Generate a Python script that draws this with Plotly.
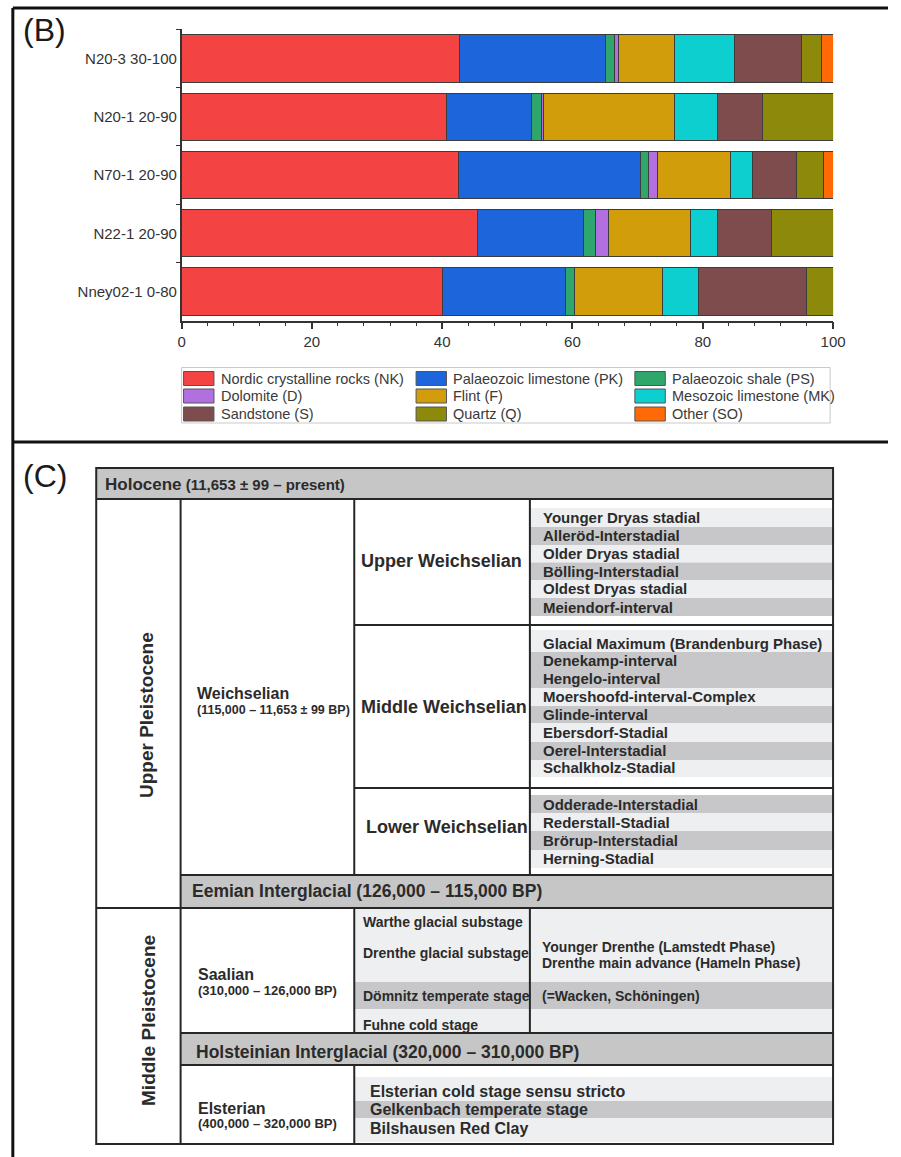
import plotly.graph_objects as go

# ---------------- data (panel B) ----------------
samples = ["N20-3 30-100", "N20-1 20-90", "N70-1 20-90", "N22-1 20-90", "Nney02-1 0-80"]
materials = ["Nordic crystalline rocks (NK)", "Palaeozoic limestone (PK)", "Palaeozoic shale (PS)",
             "Dolomite (D)", "Flint (F)", "Mesozoic limestone (MK)",
             "Sandstone (S)", "Quartz (Q)", "Other (SO)"]
NK = [42.7, 40.7, 42.5, 45.4, 40.0]
PK = [22.4, 13.0, 28.0, 16.3, 19.0]
PS = [1.4, 1.5, 1.2, 1.9, 1.3]
D = [0.5, 0.4, 1.4, 1.9, 0.0]
F = [8.6, 20.0, 11.2, 12.6, 13.5]
MK = [9.3, 6.7, 3.3, 4.1, 5.5]
S = [10.2, 6.9, 6.8, 8.4, 16.7]
Q = [3.2, 10.8, 4.2, 9.4, 4.0]
SO = [1.7, 0.0, 1.4, 0.0, 0.0]
values = [NK, PK, PS, D, F, MK, S, Q, SO]
colors = ["#F44343", "#1D65DA", "#2FA66B", "#B26FDF", "#D29D0B",
          "#0ECFCF", "#7E4C4D", "#8C890B", "#FF6A06"]
x_ticks = [0, 20, 40, 60, 80, 100]

# ---------------- data (panel C) ----------------
holocene_label = "Holocene"
holocene_sub = "(11,653 ± 99 – present)"
upper_pleist = "Upper Pleistocene"
middle_pleist = "Middle Pleistocene"
weich_label = "Weichselian"
weich_sub = "(115,000 – 11,653 ± 99 BP)"
weich_stages = ["Upper Weichselian", "Middle Weichselian", "Lower Weichselian"]
upper_items = ["Younger Dryas stadial", "Alleröd-Interstadial", "Older Dryas stadial",
               "Bölling-Interstadial", "Oldest Dryas stadial", "Meiendorf-interval"]
middle_items = ["Glacial Maximum (Brandenburg Phase)", "Denekamp-interval", "Hengelo-interval",
                "Moershoofd-interval-Complex", "Glinde-interval", "Ebersdorf-Stadial",
                "Oerel-Interstadial", "Schalkholz-Stadial"]
lower_items = ["Odderade-Interstadial", "Rederstall-Stadial", "Brörup-Interstadial", "Herning-Stadial"]
eemian_label = "Eemian Interglacial (126,000 – 115,000 BP)"
saal_label = "Saalian"
saal_sub = "(310,000 – 126,000 BP)"
saal_substages = ["Warthe glacial substage", "Drenthe glacial substage",
                  "Dömnitz temperate stage", "Fuhne cold stage"]
saal_right = ["Younger Drenthe (Lamstedt Phase)", "Drenthe main advance (Hameln Phase)",
              "(=Wacken, Schöningen)"]
holst_label = "Holsteinian Interglacial (320,000 – 310,000 BP)"
elst_label = "Elsterian"
elst_sub = "(400,000 – 320,000 BP)"
elst_items = ["Elsterian cold stage sensu stricto", "Gelkenbach temperate stage", "Bilshausen Red Clay"]

W, H = 901, 1157
FONT = "Liberation Sans, Arial, sans-serif"
TXT = "#2b2b2b"
LIGHT = "#eeeff1"
GRAY = "#c7c7c9"
HEAD = "#c6c6c6"
LINE = "#262626"


def X(px):
    return px / W


def Y(py):
    return 1 - py / H


fig = go.Figure()
for name, vals, col in zip(materials, values, colors):
    fig.add_trace(go.Bar(
        y=samples, x=vals, name=name, orientation="h",
        marker=dict(color=col, line=dict(color="#3c3c3c", width=1)),
        showlegend=False,
    ))

shapes = []
annotations = []


def rect(x0, y0, x1, y1, fill, lw=0, lc=LINE):
    shapes.append(dict(type="rect", xref="paper", yref="paper",
                       x0=X(x0), x1=X(x1), y0=Y(y1), y1=Y(y0),
                       fillcolor=fill, line=dict(width=lw, color=lc), layer="above"))


def line(x0, y0, x1, y1, w=2, c=LINE):
    shapes.append(dict(type="line", xref="paper", yref="paper",
                       x0=X(x0), x1=X(x1), y0=Y(y0), y1=Y(y1),
                       line=dict(width=w, color=c), layer="above"))


def text(t, x, y, size, bold=True, color=TXT, anchor="left", angle=0):
    annotations.append(dict(text=("<b>%s</b>" % t) if bold else t, x=X(x), y=Y(y),
                            xref="paper", yref="paper", showarrow=False,
                            xanchor=anchor, yanchor="middle", textangle=angle,
                            font=dict(family=FONT, size=size, color=color)))


# ---- frame ----
line(9, 8, 901, 8, w=3, c="#111")
line(9, 8, 9, 1157, w=3, c="#111")
line(9, 442, 901, 442, w=3, c="#111")
text("(B)", 17, 30, 32, bold=False, color="#1a1a1a")
text("(C)", 17, 476, 32, bold=False, color="#1a1a1a")

# ---- legend (panel B) ----
rect(181, 367.5, 842, 423, "white", lw=1, lc="#c9c9c9")
col_x = [183, 420, 643]
row_y = [378.5, 396, 414]
for i, (name, col) in enumerate(zip(materials, colors)):
    r, c = divmod(i, 3)
    rect(col_x[c], row_y[r] - 7, col_x[c] + 31, row_y[r] + 7, col, lw=1, lc="#555")
    text(name, col_x[c] + 36, row_y[r], 14.5, bold=False, color="#3a3a3a")

# ---- table (panel C) ----
L, R, T = 94, 845, 468
c1, c2, c3 = 180, 357, 536

# fills
rect(L, T, R, 499, HEAD)
rect(c1, 875, R, 908, HEAD)
rect(c1, 1033, R, 1065, HEAD)

up_bands = [(508, 527), (527, 545), (545, 562.5), (562.5, 580), (580, 598), (598, 616)]
mid_bands = [(630, 652), (652, 670), (670, 688), (688, 706), (706, 723), (723, 742), (742, 760), (760, 777)]
mid_fill = [LIGHT, GRAY, GRAY, LIGHT, GRAY, LIGHT, GRAY, LIGHT]
low_bands = [(795, 813), (813, 831), (831, 850), (850, 868)]
for k, (a, b) in enumerate(up_bands):
    rect(c3, a, R, b, LIGHT if k % 2 == 0 else GRAY)
for (a, b), f in zip(mid_bands, mid_fill):
    rect(c3, a, R, b, f)
for k, (a, b) in enumerate(low_bands):
    rect(c3, a, R, b, GRAY if k % 2 == 0 else LIGHT)
rect(c2, 908, R, 982, LIGHT)
rect(c2, 982, R, 1009, GRAY)
rect(c2, 1009, R, 1033, LIGHT)
rect(c2, 1077, R, 1101, LIGHT)
rect(c2, 1101, R, 1118, GRAY)
rect(c2, 1118, R, 1142, LIGHT)

# lines
rect(L, T, R, 1144, "rgba(0,0,0,0)", lw=2)
line(L, 499, R, 499)
line(c1, 499, c1, 1144)
line(L, 908, c1, 908)
line(c1, 875, R, 875)
line(c1, 908, R, 908)
line(c1, 1033, R, 1033)
line(c1, 1065, R, 1065)
line(c2, 499, c2, 875)
line(c3, 499, c3, 875)
line(c2, 625, R, 625)
line(c2, 788, R, 788)
line(c2, 908, c2, 1033)
line(c3, 908, c3, 1033)
line(c2, 1065, c2, 1144)

# texts
annotations.append(dict(
    text="<b>%s</b><b><span style='font-size:15px'> %s</span></b>" % (holocene_label, holocene_sub),
    x=X(101), y=Y(484), xref="paper", yref="paper", showarrow=False,
    xanchor="left", yanchor="middle", font=dict(family=FONT, size=17, color=TXT)))
text(upper_pleist, 132, 715, 19, angle=-90)
text(middle_pleist, 134, 1020, 19, angle=-90)
text(weich_label, 195, 693, 16)
text(weich_sub, 195, 710, 12.5)
text(weich_stages[0], 362, 561, 18)
text(weich_stages[1], 362, 707, 18)
text(weich_stages[2], 367, 827, 18)
up_y = [517.5, 536, 553.5, 571, 589, 607]
mid_y = [643, 660, 678, 696, 714, 732, 750, 767]
low_y = [804, 822, 840, 858]
for t, y in zip(upper_items, up_y):
    text(t, 547, y, 15)
for t, y in zip(middle_items, mid_y):
    text(t, 547, y, 15)
for t, y in zip(lower_items, low_y):
    text(t, 547, y, 15)
text(eemian_label, 190, 891, 17.5)
text(saal_label, 196, 974, 16)
text(saal_sub, 196, 990, 13)
for t, y in zip(saal_substages, [922, 953, 996, 1025]):
    text(t, 364, y, 14)
for t, y in zip(saal_right, [947, 963, 996]):
    text(t, 546, y, 14)
text(holst_label, 194, 1052, 17.5)
text(elst_label, 196, 1108, 16)
text(elst_sub, 196, 1123, 13)
for t, y in zip(elst_items, [1091, 1109, 1128]):
    text(t, 371, y, 16)

# ---- layout ----
y_top, y_bot = 29.3, 320.7
fig.update_layout(
    width=W, height=H, autosize=False, margin=dict(l=0, r=0, t=0, b=0),
    paper_bgcolor="white", plot_bgcolor="white",
    barmode="stack", bargap=0.19,
    font=dict(family=FONT, color="#333"),
    shapes=shapes, annotations=annotations,
    xaxis=dict(domain=[X(181), X(845)], range=[0, 100], tickvals=x_ticks,
               showline=True, linecolor="#333", linewidth=1.5, mirror=False,
               ticks="outside", ticklen=7, tickwidth=1.5, tickcolor="#333",
               minor=dict(dtick=4, ticks="outside", ticklen=4, tickwidth=1, tickcolor="#333"),
               showgrid=False, zeroline=False,
               tickfont=dict(size=15, color="#333", family=FONT)),
    yaxis=dict(domain=[Y(y_bot), Y(y_top)], type="category", autorange="reversed",
               showline=True, linecolor="#333", linewidth=1.5,
               ticks="outside", tickson="boundaries", ticklen=4, tickcolor="#333",
               showgrid=False, zeroline=False,
               tickfont=dict(size=15, color="#333", family=FONT)),
)

post = (
    "document.documentElement.style.overflow='hidden';"
    "document.body.style.margin='0';"
    "document.body.style.overflow='hidden';"
)
fig.write_html("out.html",
               config={"responsive": False, "displayModeBar": False},
               post_script=post)
